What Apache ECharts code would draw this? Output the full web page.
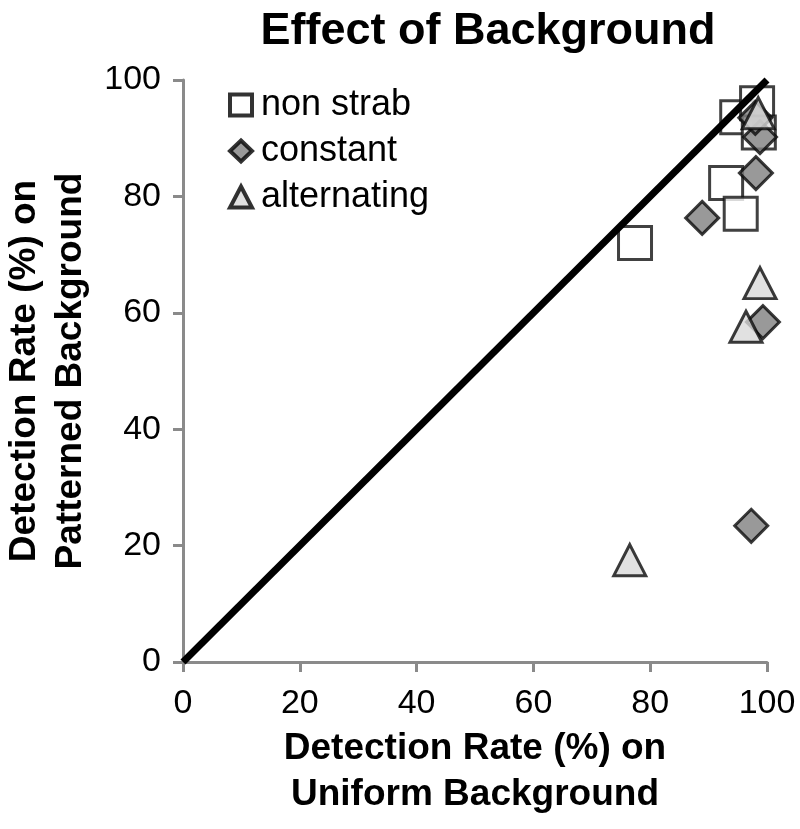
<!DOCTYPE html>
<html>
<head>
<meta charset="utf-8">
<script src="https://cdn.jsdelivr.net/npm/echarts@6/dist/echarts.min.js"></script>
<style>html,body{margin:0;padding:0;background:#fff}#c{width:800px;height:829px}</style>
</head>
<body>
<div id="c"></div>
<script>
const seriesNames = ['non strab', 'constant', 'alternating'];
const nonStrabX = [77.4, 93.0, 95.5, 94.9, 98.3, 98.6];
const nonStrabY = [72.0, 82.3, 77.0, 93.6, 96.0, 91.0];
const constantX = [98.8, 98.1, 88.9, 99.3, 97.3, 98.0];
const constantY = [90.2, 84.0, 76.3, 58.4, 23.4, 93.5];
const alternatingX = [98.5, 98.8, 96.4, 76.5];
const alternatingY = [94.3, 65.1, 57.6, 17.5];
const diagonalX = [0, 100];
const diagonalY = [0, 100];
const tickValues = [0, 20, 40, 60, 80, 100];

const zip = (xs, ys) => xs.map((x, i) => [x, ys[i]]);
const FONT = '"Liberation Sans", Arial, sans-serif';

const chart = echarts.init(document.getElementById('c'), null, {renderer: 'canvas'});
const axisCommon = {
  type: 'value', min: tickValues[0], max: tickValues[tickValues.length - 1], interval: 20,
  splitLine: {show: false},
  axisLine: {show: true, lineStyle: {color: '#8a8a8a', width: 3}},
  axisTick: {show: true, length: 10, lineStyle: {color: '#8a8a8a', width: 3}},
  nameLocation: 'middle',
  nameTextStyle: {fontFamily: FONT, fontSize: 37, fontWeight: 'bold', color: '#000', lineHeight: 46}
};
const legendIcon = {borderColor: '#000', borderWidth: 4};
chart.setOption({
  animation: false,
  backgroundColor: '#fff',
  title: {
    text: 'Effect of Background', left: 483, top: 4, textAlign: 'center',
    textStyle: {fontFamily: FONT, fontSize: 45, fontWeight: 'bold', color: '#000'}
  },
  grid: {left: 183, right: 33, top: 80, bottom: 167, outerBoundsMode: 'none', containLabel: false},
  legend: {
    data: [
      {name: seriesNames[0], itemStyle: Object.assign({color: '#fff'}, legendIcon)},
      {name: seriesNames[1], itemStyle: Object.assign({color: '#808080'}, legendIcon)},
      {name: seriesNames[2], itemStyle: Object.assign({color: '#d9d9d9'}, legendIcon)}
    ],
    orient: 'vertical', left: 223, top: 82,
    itemWidth: 22, itemHeight: 21, itemGap: 10,
    textStyle: {fontFamily: FONT, fontSize: 36, color: '#000', padding: [0, 0, 0, 4]}
  },
  xAxis: Object.assign({}, axisCommon, {
    name: 'Detection Rate (%) on\nUniform Background', nameGap: 64,
    axisLabel: {fontFamily: FONT, fontSize: 34, color: '#000', margin: 25}
  }),
  yAxis: Object.assign({}, axisCommon, {
    name: 'Detection Rate (%) on\nPatterned Background', nameGap: 84, nameRotate: 90,
    axisLabel: {fontFamily: FONT, fontSize: 34, color: '#000', margin: 22}
  }),
  series: [
    {
      name: seriesNames[0], type: 'scatter', symbol: 'rect', symbolSize: 33,
      data: zip(nonStrabX, nonStrabY),
      itemStyle: {color: '#ffffff', borderColor: '#111', borderWidth: 3}, z: 2
    },
    {
      name: seriesNames[1], type: 'scatter', symbol: 'diamond', symbolSize: 33,
      data: zip(constantX, constantY),
      itemStyle: {color: '#808080', borderColor: '#0a0a0a', borderWidth: 3}, z: 3
    },
    {
      name: seriesNames[2], type: 'scatter', symbol: 'triangle', symbolSize: [32, 31],
      data: zip(alternatingX, alternatingY),
      itemStyle: {color: '#d9d9d9', borderColor: '#0a0a0a', borderWidth: 3}, z: 4
    },
    {
      name: 'diagonal', type: 'line', data: zip(diagonalX, diagonalY), symbol: 'none',
      lineStyle: {color: '#000', width: 7}, z: 5, silent: true
    }
  ]
});
</script>
</body>
</html>
